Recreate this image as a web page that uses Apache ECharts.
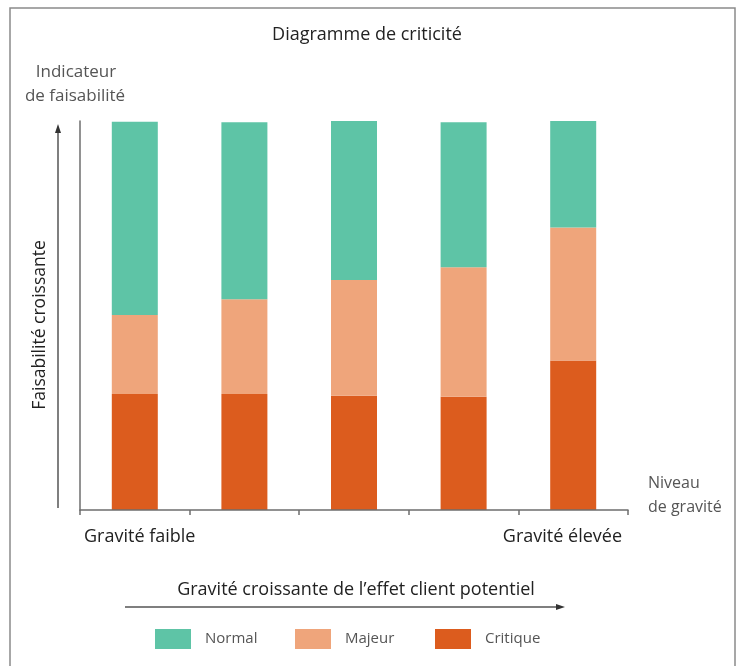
<!DOCTYPE html>
<html>
<head>
<meta charset="utf-8">
<script src="https://cdn.jsdelivr.net/npm/echarts@6/dist/echarts.min.js"></script>
<style>
  html, body { margin: 0; padding: 0; background: #fff; }
  #chart { width: 740px; height: 666px; }
</style>
</head>
<body>
<div id="chart"></div>
<script>
// Severity levels (left = low severity, right = high severity)
const categories = ['G1', 'G2', 'G3', 'G4', 'G5'];
// Share of each criticality class per severity level (stacked to ~100)
const critique = [29.8, 29.8, 29.4, 29.1, 38.4];
const majeur   = [20.3, 24.4, 29.7, 33.3, 34.2];
const normal   = [49.7, 45.5, 40.9, 37.3, 27.4];

const colors = { Normal: '#5ec4a6', Majeur: '#efa57b', Critique: '#dc5c1e' };

const FONT = '"Open Sans", "Noto Sans", sans-serif';
const DARK = '#222222';
const GREY = '#555555';

const chart = echarts.init(document.getElementById('chart'), null, { renderer: 'canvas' });

function bar(name, data) {
  return {
    name: name,
    type: 'bar',
    stack: 'total',
    barWidth: 46,
    data: data,
    itemStyle: { color: colors[name] },
    emphasis: { disabled: true },
    z: 1
  };
}

function legendItem(name, left) {
  return {
    data: [name],
    left: left,
    top: 629,
    itemWidth: 36,
    itemHeight: 20,
    icon: 'rect',
    padding: 0,
    selectedMode: false,
    textStyle: { color: GREY, fontFamily: FONT, fontSize: 15, padding: [0, 0, 0, 9] }
  };
}

function label(text, x, y, size, color, align) {
  return {
    type: 'text', x: x, y: y,
    style: { text: text, fill: color, font: size + 'px ' + FONT, textAlign: align, textVerticalAlign: 'middle' }
  };
}

const option = {
  backgroundColor: '#ffffff',
  animation: false,
  title: {
    text: 'Diagramme de criticité',
    left: 362,
    top: 21,
    textAlign: 'center',
    textStyle: { color: DARK, fontFamily: FONT, fontSize: 18, fontWeight: 'normal' }
  },
  legend: [
    legendItem('Normal', 155),
    legendItem('Majeur', 295),
    legendItem('Critique', 435)
  ],
  grid: { left: 80, right: 112, top: 121, bottom: 156 },
  xAxis: {
    type: 'category',
    data: categories,
    boundaryGap: true,
    axisLine: { show: true, lineStyle: { color: '#6e6e6e', width: 1.5 } },
    axisTick: { show: true, length: 5, lineStyle: { color: '#6e6e6e', width: 1.5 } },
    axisLabel: { show: false },
    z: 5
  },
  yAxis: {
    type: 'value',
    min: 0,
    max: 100,
    splitLine: { show: false },
    axisLabel: { show: false },
    axisTick: { show: false },
    axisLine: { show: true, lineStyle: { color: '#6e6e6e', width: 1.5 } }
  },
  series: [
    bar('Critique', critique),
    bar('Majeur', majeur),
    bar('Normal', normal)
  ],
  graphic: [
    // outer frame (open at the bottom edge of the page)
    {
      type: 'rect',
      shape: { x: 10, y: 8, width: 725, height: 700 },
      style: { fill: 'none', stroke: '#8a8a8a', lineWidth: 1.5 },
      silent: true
    },
    // axis captions
    label('Indicateur', 76, 72, 17, GREY, 'center'),
    label('de faisabilité', 75, 96, 17, GREY, 'center'),
    label('Niveau', 648, 483, 16, GREY, 'left'),
    label('de gravité', 648, 507, 16, GREY, 'left'),
    label('Gravité faible', 84, 537, 18, DARK, 'left'),
    label('Gravité élevée', 622, 537, 18, DARK, 'right'),
    label('Gravité croissante de l\u2019effet client potentiel', 356, 590, 18, DARK, 'center'),
    {
      type: 'text', x: 40, y: 325, rotation: Math.PI / 2,
      style: { text: 'Faisabilité croissante', fill: DARK, font: '17.5px ' + FONT, textAlign: 'center', textVerticalAlign: 'middle' }
    },
    // vertical arrow (increasing feasibility)
    {
      type: 'line',
      shape: { x1: 58, y1: 508, x2: 58, y2: 130 },
      style: { stroke: '#555', lineWidth: 1.5 }
    },
    {
      type: 'polygon',
      shape: { points: [[58, 124], [55, 133], [61, 133]] },
      style: { fill: '#333' }
    },
    // horizontal arrow (increasing severity)
    {
      type: 'line',
      shape: { x1: 125, y1: 607, x2: 558, y2: 607 },
      style: { stroke: '#555', lineWidth: 1.5 }
    },
    {
      type: 'polygon',
      shape: { points: [[565, 607], [556, 604], [556, 610]] },
      style: { fill: '#333' }
    }
  ]
};

chart.setOption(option);
</script>
</body>
</html>
